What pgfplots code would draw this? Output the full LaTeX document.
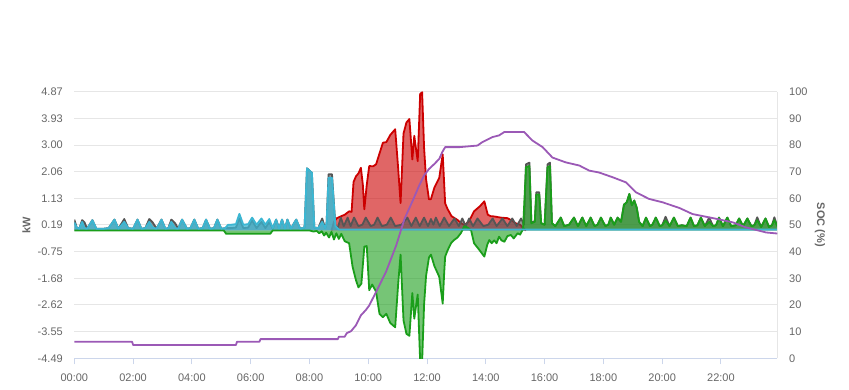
\documentclass[border=0pt]{standalone}
\usepackage{pgfplots}
\pgfplotsset{compat=1.18}
\usepackage{pgfplotstable}
\usepackage{fontspec}
\setmainfont{Liberation Sans}
\definecolor{gridc}{HTML}{E6E6E6}
\definecolor{axc}{HTML}{CCD6EB}
\definecolor{txt}{HTML}{666666}
\definecolor{redl}{HTML}{CC0000}
\definecolor{greenl}{HTML}{1A9E1A}
\definecolor{grayl}{HTML}{555555}
\definecolor{cyanl}{HTML}{3CB6D2}
\definecolor{purp}{HTML}{9B59B6}

% PV (red)
\pgfplotstableread{
t v
525 0
530 0.30
536 0.43
545 0.50
552 0.55
561 0.67
566 0.65
570 1.70
575 1.90
580 2.00
585 2.20
589 1.60
592 0.74
597 1.60
602 2.26
610 2.25
616 2.32
623 2.70
630 3.08
637 3.10
645 3.35
655 3.55
661 2.20
666 0.96
672 3.40
678 3.79
684 3.91
690 2.49
694 3.32
698 2.80
701 2.43
706 4.79
710 4.85
714 2.90
718 1.80
724 1.09
728 1.10
735 1.50
745 1.85
752 2.67
757 0.95
762 0.75
770 0.50
782 0.37
790 0.25
796 0.19
805 0.30
816 0.67
828 0.85
837 1.02
844 0.55
850 0.50
857 0.49
870 0.45
884 0.43
893 0.35
901 0.25
910 0.20
918 0.05
922 0
}\tred

% load (gray)
\pgfplotstableread{
t v
0 0.38
5 0.10
10 0.06
16 0.36
21 0.28
26 0.06
37 0.36
45 0.06
60 0.06
70 0.08
82 0.38
90 0.06
102 0.40
110 0.08
120 0.06
129 0.38
137 0.06
145 0.08
153 0.40
160 0.28
168 0.06
178 0.38
186 0.06
192 0.08
198 0.38
206 0.25
212 0.06
220 0.38
230 0.06
237 0.08
245 0.38
253 0.06
262 0.08
269 0.38
277 0.06
285 0.08
292 0.38
300 0.06
310 0.08
320 0.08
330 0.10
337 0.42
345 0.08
355 0.10
363 0.35
372 0.08
382 0.30
390 0.08
398 0.30
405 0.06
412 0.38
418 0.06
424 0.38
430 0.06
435 0.38
442 0.06
453 0.38
461 0.06
470 0.10
475 2.18
480 2.10
485 2.02
490 0.10
498 0.08
506 0.42
512 0.08
515 0.25
519 1.97
526 1.97
533 0.15
538 0.10
544 0.45
550 0.15
558 0.45
564 0.15
571 0.45
580 0.15
588 0.20
595 0.45
605 0.15
612 0.20
619 0.45
628 0.15
638 0.20
646 0.45
655 0.15
668 0.20
680 0.45
688 0.15
697 0.45
705 0.15
714 0.45
722 0.15
728 0.40
733 0.20
738 0.45
746 0.15
755 0.45
765 0.15
776 0.42
785 0.15
792 0.42
799 0.15
806 0.42
814 0.15
823 0.42
835 0.15
845 0.20
854 0.42
862 0.15
874 0.42
884 0.15
894 0.42
903 0.15
912 0.42
918 0.20
922 2.32
929 2.38
933 0.28
940 0.32
943 1.34
949 1.34
953 0.25
960 0.20
966 2.32
971 2.38
975 0.25
982 0.15
993 0.45
1000 0.15
1010 0.20
1020 0.45
1028 0.15
1037 0.45
1045 0.15
1054 0.45
1062 0.15
1068 0.20
1075 0.45
1084 0.15
1090 0.20
1095 0.45
1102 0.20
1109 0.45
1116 0.30
1122 0.90
1128 1.00
1133 1.28
1138 0.88
1143 1.05
1148 0.80
1153 0.30
1160 0.15
1167 0.45
1175 0.15
1180 0.20
1187 0.45
1195 0.15
1200 0.18
1207 0.48
1215 0.15
1224 0.45
1232 0.15
1240 0.18
1250 0.15
1258 0.45
1265 0.15
1272 0.18
1279 0.45
1287 0.15
1296 0.45
1304 0.15
1310 0.18
1316 0.45
1324 0.15
1333 0.45
1341 0.15
1350 0.18
1357 0.42
1365 0.15
1374 0.42
1382 0.15
1388 0.18
1394 0.46
1402 0.12
1411 0.42
1418 0.12
1424 0.18
1429 0.46
1435 0.15
}\tgray

% battery (green)
\pgfplotstableread{
t v
0 0
305 0
310 -0.12
400 -0.12
405 0
480 0
488 -0.04
495 -0.02
500 -0.10
505 -0.03
510 -0.18
514 -0.08
520 -0.25
525 -0.05
530 -0.32
535 -0.10
540 -0.30
545 -0.12
552 -0.38
561 -0.45
568 -1.27
575 -1.75
580 -2.00
586 -1.87
592 -0.57
597 -0.55
602 -2.10
608 -1.90
616 -2.15
623 -2.93
630 -3.05
637 -2.93
645 -3.25
655 -3.40
661 -1.90
666 -0.85
672 -3.16
678 -3.63
684 -3.70
690 -2.20
694 -3.10
698 -2.60
701 -2.25
706 -4.60
710 -4.60
714 -2.60
718 -1.60
724 -0.95
728 -0.85
735 -1.25
745 -1.63
752 -2.57
755 -1.50
757 -0.92
762 -0.70
769 -0.45
775 -0.34
782 -0.25
789 -0.10
796 0.15
803 0.10
810 0.00
816 -0.45
827 -0.69
837 -0.92
843 -0.50
847 -0.34
852 -0.45
857 -0.35
862 -0.45
867 -0.22
872 -0.35
878 -0.40
884 -0.20
891 -0.16
897 -0.28
905 -0.10
910 -0.15
916 0.05
922 2.22
929 2.26
933 0.25
940 0.30
943 1.26
949 1.26
953 0.25
960 0.20
966 2.22
971 2.26
975 0.25
982 0.15
993 0.45
1000 0.15
1010 0.20
1020 0.45
1028 0.15
1037 0.45
1045 0.15
1054 0.45
1062 0.15
1068 0.20
1075 0.45
1084 0.15
1090 0.20
1095 0.45
1102 0.20
1109 0.45
1116 0.30
1122 0.90
1128 1.00
1133 1.28
1138 0.88
1143 1.05
1148 0.80
1153 0.30
1160 0.15
1167 0.45
1175 0.15
1180 0.20
1187 0.45
1195 0.15
1200 0.18
1207 0.35
1215 0.15
1224 0.45
1232 0.15
1240 0.18
1250 0.15
1258 0.45
1265 0.15
1272 0.18
1279 0.45
1287 0.15
1296 0.30
1304 0.15
1310 0.18
1316 0.45
1324 0.15
1333 0.45
1341 0.15
1350 0.18
1357 0.42
1365 0.15
1374 0.42
1382 0.15
1388 0.18
1394 0.36
1402 0.12
1411 0.42
1418 0.12
1424 0.18
1429 0.36
1435 0.15
}\tgreen

% grid (cyan)
\pgfplotstableread{
t v
0 0.28
5 0.10
10 0.06
16 0.30
21 0.08
26 0.06
37 0.36
45 0.06
60 0.06
70 0.08
82 0.38
90 0.06
102 0.30
110 0.08
120 0.06
129 0.38
137 0.06
145 0.08
153 0.30
160 0.10
168 0.06
178 0.38
186 0.06
192 0.08
198 0.30
206 0.08
212 0.06
220 0.38
230 0.06
237 0.08
245 0.38
253 0.06
262 0.08
269 0.38
277 0.06
285 0.08
292 0.38
300 0.06
308 0.08
314 0.20
320 0.20
330 0.22
337 0.58
345 0.20
355 0.22
363 0.45
372 0.20
382 0.42
390 0.20
398 0.40
405 0.08
412 0.38
418 0.06
424 0.38
430 0.06
435 0.38
442 0.06
453 0.38
461 0.06
470 0.10
475 2.18
480 2.10
485 2.02
490 0.10
498 0.08
506 0.30
512 0.08
515 0.25
519 1.85
526 1.85
533 0.15
540 0.03
1435 0.03
}\tcyan

% SOC (purple)
\pgfplotstableread{
t v
0 6.2
118 6.2
120 5.0
330 5.0
332 6.2
378 6.2
380 7.2
538 7.2
540 8.1
552 8.1
556 9.4
565 10.2
575 12.4
585 16.1
595 18.1
602 19.8
616 24.9
636 32.3
657 42.3
674 52.3
690 58.8
704 64.8
714 68.6
724 71.0
735 72.9
745 74.8
751 77.3
757 79.2
786 79.2
823 79.8
833 81.1
854 83.0
867 83.6
878 84.9
918 84.9
935 81.7
956 79.2
976 75.3
1003 73.5
1031 72.3
1051 70.4
1071 69.7
1099 67.9
1126 66.0
1146 62.3
1173 59.8
1201 58.5
1235 56.4
1262 54.1
1303 52.6
1344 51.0
1371 49.1
1412 47.2
1435 46.8
}\tsoc

\begin{document}
\begin{tikzpicture}
\path[use as bounding box] (-74.3pt,-31.7pt) rectangle (774.7pt,358.3pt);
\begin{axis}[
  at={(0,0)}, anchor=south west,
  scale only axis, width=703pt, height=266.6pt,
  xmin=0, xmax=1435, ymin=-4.49, ymax=4.87,
  axis x line*=bottom, axis y line*=left,
  x axis line style={draw=axc, -, line width=1pt},
  y axis line style={draw=none},
  xtick={0,120,...,1320},
  xticklabels={00:00,02:00,04:00,06:00,08:00,10:00,12:00,14:00,16:00,18:00,20:00,22:00},
  ytick={-4.49,-3.554,-2.618,-1.682,-0.746,0.19,1.126,2.062,2.998,3.934,4.87},
  yticklabels={-4.49,-3.55,-2.62,-1.68,-0.75,0.19,1.13,2.06,3.00,3.93,4.87},
  ymajorgrids, major grid style={draw=gridc, line width=1pt},
  tick align=outside, major tick length=6pt,
  xtick style={draw=axc, line width=1pt},
  ytick style={draw=none},
  ticklabel style={font=\fontsize{11}{13}\selectfont, text=txt},
  xticklabel style={yshift=-5.5pt},
  yticklabel style={xshift=-2pt},
  ylabel={kW},
  every axis y label/.style={at={(axis description cs:-0.068,0.5)}, anchor=center, rotate=90, font=\bfseries\fontsize{11}{13}\selectfont, text=txt},
  line join=round,
]
\addplot[fill=redl, fill opacity=0.6, draw=none] table {\tred} \closedcycle;
\addplot[redl, line width=1.8pt] table {\tred};
\addplot[fill=grayl, fill opacity=0.6, draw=none] table {\tgray} \closedcycle;
\addplot[grayl, line width=1.8pt] table {\tgray};
\addplot[fill=greenl, fill opacity=0.6, draw=none] table {\tgreen} \closedcycle;
\addplot[fill=cyanl, fill opacity=0.75, draw=none] table {\tcyan} \closedcycle;
\addplot[greenl, line width=1.8pt] table {\tgreen};
\addplot[cyanl, line width=1.8pt] table {\tcyan};
\end{axis}
\begin{axis}[
  at={(0,0)}, anchor=south west,
  scale only axis, width=703pt, height=266.6pt,
  xmin=0, xmax=1435, ymin=0, ymax=100,
  axis x line=none, axis y line*=right,
  y axis line style={draw=gridc, -, line width=1pt},
  ytick={0,10,...,100},
  tick align=outside, major tick length=6pt,
  ytick style={draw=none},
  ticklabel style={font=\fontsize{11}{13}\selectfont, text=txt, /pgf/number format/assume math mode=true},
  yticklabel style={xshift=2.3pt},
  ylabel={SOC (\%)},
  every axis y label/.style={at={(axis description cs:1.0608,0.5)}, anchor=center, rotate=-90, font=\bfseries\fontsize{11}{13}\selectfont, text=txt},
  line join=round,
]
\addplot[purp, line width=1.8pt] table {\tsoc};
\end{axis}
\end{tikzpicture}
\end{document}
